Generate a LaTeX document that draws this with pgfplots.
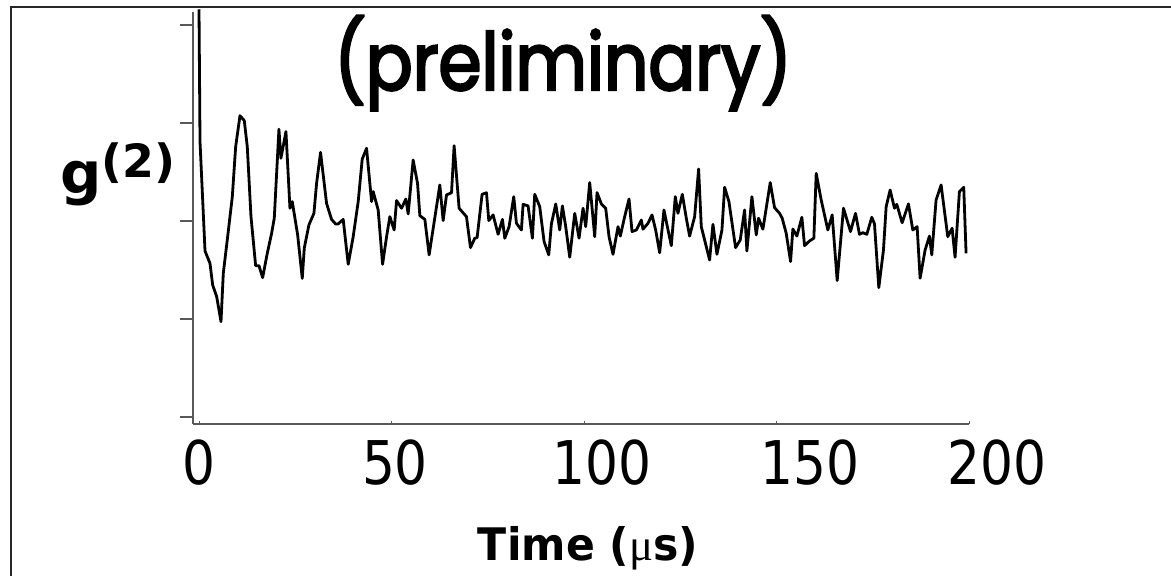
\documentclass[border=0pt]{standalone}
\usepackage{fontspec}
\usepackage{pgfplots}
\usepackage{pgfplotstable}
\pgfplotsset{compat=1.18}
\setmainfont{DejaVu Sans}
\newfontfamily\tickfont[FakeStretch=0.86]{DejaVu Sans}
\newfontfamily\labelfont[FakeStretch=0.95]{DejaVu Sans}
\newfontfamily\gfont{DejaVu Sans}
\newfontfamily\symfont{Liberation Serif}
\newfontfamily\notefont[FakeStretch=0.87, FakeBold=3]{Poppins}

% g2 correlation trace: time (us), normalised g2
\pgfplotstableread{
t g
0.00 2.080
0.26 1.405
1.56 0.847
2.85 0.784
3.55 0.673
4.59 0.614
5.71 0.486
6.31 0.733
7.44 0.920
8.65 1.124
9.52 1.379
10.64 1.537
11.76 1.512
12.54 1.379
13.50 1.022
14.71 0.772
15.57 0.772
16.53 0.711
17.73 0.835
18.86 0.937
19.55 1.014
20.76 1.468
21.28 1.320
22.58 1.456
23.62 1.065
24.22 1.099
25.62 0.929
26.82 0.707
27.34 0.861
28.55 0.980
29.85 1.039
30.54 1.192
31.57 1.350
33.13 1.090
34.43 1.008
35.47 0.985
36.15 0.985
37.45 1.008
38.75 0.779
40.05 0.920
41.35 1.099
42.39 1.315
43.52 1.371
44.82 1.099
45.24 1.150
46.54 1.056
47.68 0.779
48.72 0.920
49.57 1.022
50.69 0.954
51.31 1.104
52.61 1.065
53.73 1.112
54.33 1.036
55.62 1.311
56.76 1.192
57.36 1.027
58.66 1.008
59.77 0.827
61.69 1.073
62.55 1.184
63.41 1.002
64.29 1.133
65.59 1.144
66.26 1.384
67.56 1.065
69.47 1.022
70.51 0.864
71.63 0.912
72.23 0.915
73.53 1.136
74.67 1.144
75.27 1.002
76.39 1.031
77.69 0.932
78.81 1.008
79.42 0.912
80.54 0.971
81.75 1.124
82.45 0.988
83.74 0.954
84.18 1.085
85.47 1.077
86.60 0.912
87.20 1.136
88.50 1.073
89.63 0.895
90.84 0.827
91.53 0.985
92.66 1.087
93.69 0.954
94.39 1.077
95.25 0.971
96.29 0.815
97.59 1.039
98.71 0.912
99.75 1.065
100.44 0.971
101.48 1.196
102.78 0.920
103.38 1.145
104.51 1.087
105.63 1.065
106.50 0.920
107.53 0.830
108.83 0.971
109.44 0.923
110.56 1.022
111.69 1.112
112.47 0.946
113.59 0.954
114.89 1.005
115.32 0.958
116.62 0.988
117.66 1.031
118.61 0.954
119.65 0.838
120.77 1.056
121.55 0.980
122.68 0.874
123.71 1.124
124.40 1.039
125.53 1.136
126.57 1.014
127.43 0.923
128.73 1.022
129.77 1.265
130.46 0.971
131.76 0.869
132.62 0.801
133.49 0.983
134.53 0.830
135.83 0.954
136.52 1.172
137.64 1.099
139.37 0.864
140.58 0.903
141.71 1.056
142.31 0.847
143.61 1.124
144.74 0.929
145.34 1.014
146.47 0.958
148.37 1.196
149.49 1.068
150.79 1.039
151.48 1.014
152.52 0.937
153.65 0.793
154.25 0.959
155.29 0.923
156.59 1.019
157.28 0.874
158.58 0.898
159.70 0.912
160.31 1.243
161.61 1.107
163.33 0.954
164.46 1.031
165.76 0.696
167.40 1.065
169.22 0.946
170.52 1.039
171.55 0.932
172.42 0.940
173.46 0.932
174.75 1.019
175.45 0.985
176.57 0.660
177.78 0.852
178.48 1.073
179.51 1.158
180.64 1.065
181.24 1.085
182.63 0.991
184.27 1.087
185.40 0.954
186.52 0.971
187.30 0.708
188.60 0.852
189.72 0.923
190.33 0.827
191.45 1.107
192.75 1.184
194.48 0.920
195.61 0.963
196.38 0.815
197.51 1.150
198.63 1.172
199.24 0.835
}\gtwo

\begin{document}
\begin{tikzpicture}
\useasboundingbox (0,0) rectangle (1171bp,-576bp);
% slide frame
\draw[line width=2bp, black!85] (11bp,-576bp) -- (11bp,-7bp) -- (1171bp,-7bp);

\begin{axis}[
  at={(193bp,-424bp)}, anchor=south west,
  scale only axis, width=776bp, height=412bp,
  xmin=-1.56, xmax=200, ymin=-0.0357, ymax=2.066,
  axis lines*=left,
  axis line style={black!65, line width=1.2bp},
  xtick={0,50,100,150,200}, xticklabels={},
  ytick={0,0.5,1,1.5,2}, yticklabels={},
  xtick align=inside, ytick align=outside,
  major tick length=13bp,
  xtick style={black!65, line width=1bp, /pgfplots/major tick length=3bp},
  ytick style={black!65, line width=1.2bp},
  clip=false,
]
\addplot[black, line width=2.8bp, line join=round, mark=none] table[x=t, y=g] {\gtwo};
\end{axis}

% tick labels
\begin{scope}[every node/.style={anchor=base, inner sep=0pt, font=\tickfont\fontsize{60.5}{66}\selectfont}]
\node at (199bp,-484bp) {0};
\node at (395bp,-484bp) {50};
\node at (602bp,-484bp) {100};
\node at (810bp,-484bp) {150};
\node at (997bp,-484bp) {200};
\end{scope}

% axis titles
\node[anchor=base, inner sep=0pt, font=\labelfont\bfseries\fontsize{45}{50}\selectfont]
  at (588bp,-560bp) {Time ({\symfont\mdseries μ}s)};
\node[anchor=base west, inner sep=0pt, font=\gfont\bfseries\fontsize{58}{60}\selectfont]
  at (60bp,-193bp) {g\raisebox{16bp}{\fontsize{46}{48}\selectfont(2)}};

% note
\node[anchor=base, inner sep=0pt, font=\notefont\fontsize{80}{90}\selectfont]
  at (563bp,-90bp) {(preliminary)};
\end{tikzpicture}
\end{document}
